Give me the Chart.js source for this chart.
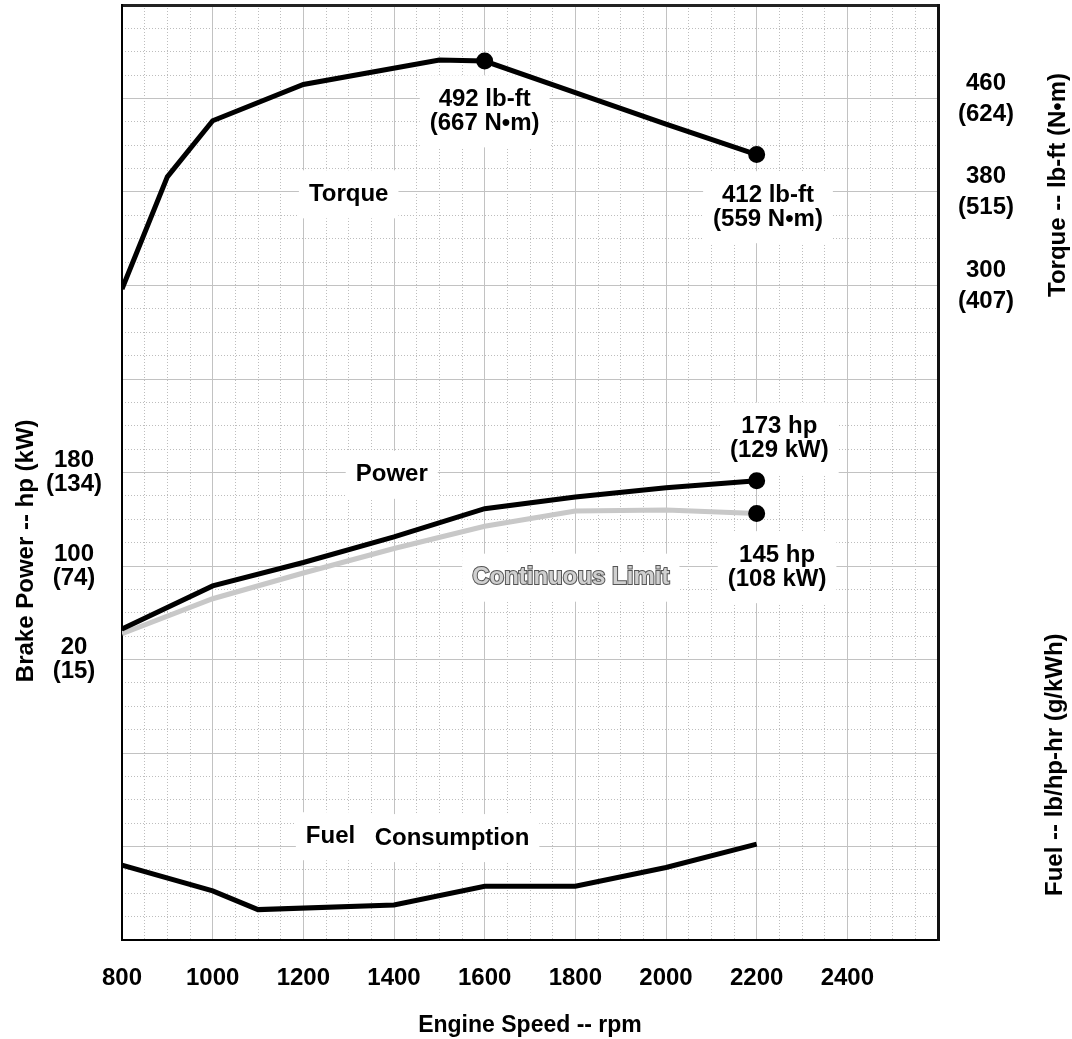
<!DOCTYPE html>
<html>
<head>
<meta charset="utf-8">
<script src="https://cdn.jsdelivr.net/npm/chart.js@4.4.1/dist/chart.umd.min.js"></script>
<style>
  html, body { margin: 0; padding: 0; background: #fff; }
  #wrap { width: 1072px; height: 1039px; }
</style>
</head>
<body>
<div id="wrap"><canvas id="chartPerf"></canvas></div>
<script>
// Torque (lb-ft)
const torqueRpm = [800, 900, 1000, 1200, 1500, 1600, 1800, 2000, 2200];
const torqueLbft = [297, 393, 441, 472, 493, 492, 465, 438, 412];
const torqueMarks = [1600, 2200];

// Brake power (hp)
const powerRpm = [800, 1000, 1200, 1400, 1600, 1800, 2000, 2200];
const powerHp = [46, 83, 103, 125, 149, 159, 167, 173];
const continuousHp = [42, 72, 94, 115, 134, 147, 148, 145];
const powerMarks = [2200];

// Fuel consumption (lb/hp-hr)
const fuelRpm = [800, 1000, 1100, 1400, 1600, 1800, 2000, 2200];
const fuelLb = [0.352, 0.341, 0.333, 0.335, 0.343, 0.343, 0.351, 0.361];

// tick labels
const speedTicks = [800, 1000, 1200, 1400, 1600, 1800, 2000, 2200, 2400];
const powerTicks = [20, 100, 180];
const powerTicksKw = ["(15)", "(74)", "(134)"];
const torqueTicks = [300, 380, 460];
const torqueTicksNm = ["(407)", "(515)", "(624)"];
const fuelTicks = [0.36, 0.40];
const fuelTicksG = ["(219)", "(242)"];

// in-chart labels (data units)
const notes = [
    { text: ["Torque"], x: 1300, y: 378, axis: "yT" },
    { text: ["492 lb-ft", "(667 N\u2022m)"], x: 1600, y: 449, axis: "yT" },
    { text: ["412 lb-ft", "(559 N\u2022m)"], x: 2225, y: 367, axis: "yT" },
    { text: ["Power"], x: 1395, y: 178, axis: "yP" },
    { text: ["173 hp", "(129 kW)"], x: 2250, y: 209, axis: "yP" },
    { text: ["145 hp", "(108 kW)"], x: 2245, y: 99, axis: "yP" },
    { text: ["Continuous Limit"], x: 1790, y: 90, axis: "yP", outline: true },
    { text: ["Fuel"], x: 1260, y: 0.3644, axis: "yF" },
    { text: ["Consumption"], x: 1528, y: 0.3636, axis: "yF" }
];

const fontFamily = "'Liberation Sans', Arial, Helvetica, sans-serif";
const majorGrid = "#c2c2c2";
const minorGrid = "#bdbdbd";

Chart.defaults.font.family = fontFamily;
Chart.defaults.color = "#000";

const toPoints = (xs, ys) => xs.map((x, i) => ({ x: x, y: ys[i] }));
const near = (a, b) => Math.abs(a - b) < 1e-6;

function pickLabel(list, extra, v, digits) {
    const i = list.findIndex(t => near(t, v));
    if (i < 0) return "";
    return [digits ? v.toFixed(digits) : String(v), extra[i]];
}

// fixed axis sizes, no label overhang padding
function fixSize(w, h) {
    return s => {
        if (w !== null) s.width = w;
        if (h !== null) s.height = h;
        s.paddingTop = 0;
        s.paddingBottom = 0;
        s.paddingLeft = 0;
        s.paddingRight = 0;
    };
}

const notesPlugin = {
    id: "notes",
    beforeDatasetsDraw(chart) {
        const ctx = chart.ctx;
        const xs = chart.scales.x;
        ctx.save();
        ctx.font = "bold 24px " + fontFamily;
        ctx.textAlign = "center";
        ctx.textBaseline = "middle";
        notes.forEach(n => {
            const px = xs.getPixelForValue(n.x);
            const py = chart.scales[n.axis].getPixelForValue(n.y);
            const lh = 24;
            const w = Math.max(...n.text.map(t => ctx.measureText(t).width));
            const h = n.text.length * lh;
            ctx.fillStyle = "#fff";
            ctx.fillRect(px - w / 2 - 10, py - h / 2 - 12, w + 20, h + 24);
            n.text.forEach((t, i) => {
                const ty = py - h / 2 + lh / 2 + i * lh;
                if (n.outline) {
                    ctx.lineWidth = 2;
                    ctx.strokeStyle = "#555";
                    ctx.strokeText(t, px, ty);
                    ctx.fillStyle = "#d0d0d0";
                    ctx.fillText(t, px, ty);
                } else {
                    ctx.fillStyle = "#000";
                    ctx.fillText(t, px, ty);
                }
            });
        });
        ctx.restore();
    },
    afterDraw(chart) {
        // rotated axis titles, reading bottom to top
        const ctx = chart.ctx;
        const titles = [
            { text: "Brake Power -- hp (kW)", x: 26, y: chart.scales.yP.getPixelForValue(113) },
            { text: "Torque -- lb-ft (N\u2022m)", x: chart.width - 14, y: chart.scales.yT.getPixelForValue(386) },
            { text: "Fuel -- lb/hp-hr (g/kWh)", x: chart.width - 17, y: chart.scales.yF.getPixelForValue(0.395) }
        ];
        ctx.save();
        ctx.font = "bold 24px " + fontFamily;
        ctx.fillStyle = "#000";
        ctx.textAlign = "center";
        ctx.textBaseline = "middle";
        titles.forEach(t => {
            ctx.save();
            ctx.translate(t.x, t.y);
            ctx.rotate(-Math.PI / 2);
            ctx.fillText(t.text, 0, 0);
            ctx.restore();
        });
        ctx.restore();
    }
};

const tickFont = { size: 24, weight: "bold", family: fontFamily };

new Chart(document.getElementById("chartPerf"), {
    type: "line",
    data: {
        datasets: [
            {
                data: toPoints(torqueRpm, torqueLbft),
                yAxisID: "yT",
                borderColor: "#000",
                borderWidth: 5,
                pointRadius: c => torqueMarks.includes(c.raw.x) ? 6 : 0,
                pointBackgroundColor: "#000",
                pointBorderColor: "#000"
            },
            {
                data: toPoints(powerRpm, powerHp),
                yAxisID: "yP",
                borderColor: "#000",
                borderWidth: 5,
                pointRadius: c => powerMarks.includes(c.raw.x) ? 6 : 0,
                pointBackgroundColor: "#000",
                pointBorderColor: "#000"
            },
            {
                data: toPoints(powerRpm, continuousHp),
                yAxisID: "yP",
                borderColor: "#c8c8c8",
                borderWidth: 5,
                pointRadius: c => powerMarks.includes(c.raw.x) ? 6 : 0,
                pointBackgroundColor: "#000",
                pointBorderColor: "#000"
            },
            {
                data: toPoints(fuelRpm, fuelLb),
                yAxisID: "yF",
                borderColor: "#000",
                borderWidth: 5,
                pointRadius: 0
            }
        ]
    },
    options: {
        responsive: true,
        maintainAspectRatio: false,
        animation: false,
        events: [],
        layout: { autoPadding: false, padding: { top: 5, left: 0, right: 0, bottom: 0 } },
        plugins: {
            legend: { display: false },
            tooltip: { enabled: false }
        },
        scales: {
            x: {
                type: "linear",
                position: "bottom",
                min: 800,
                max: 2600,
                weight: 0,
                ticks: {
                    stepSize: 200,
                    padding: 24,
                    font: tickFont,
                    color: "#000",
                    callback: v => speedTicks.includes(v) ? String(v) : ""
                },
                grid: {
                    drawTicks: false,
                    color: c => (c.tick.value === 800 || c.tick.value === 2600) ? "transparent" : majorGrid,
                    lineWidth: 1
                },
                border: { display: true, color: "#000", width: 2 },
                title: {
                    display: true,
                    text: "Engine Speed -- rpm",
                    font: { size: 23, weight: "bold", family: fontFamily },
                    color: "#000",
                    padding: { top: 0, bottom: 0 }
                },
                afterFit: fixSize(null, 99)
            },
            xMinor: {
                type: "linear",
                position: "bottom",
                min: 800,
                max: 2600,
                weight: 1,
                ticks: { display: false, stepSize: 50 },
                grid: {
                    drawTicks: false,
                    color: c => (Math.round(c.tick.value) % 200 === 0) ? "transparent" : minorGrid,
                    lineWidth: 1
                },
                border: { display: false, dash: [1, 2] },
                afterFit: fixSize(null, 0)
            },
            yP: {
                type: "linear",
                position: "left",
                min: -220,
                max: 580,
                weight: 0,
                ticks: {
                    stepSize: 80,
                    padding: 20,
                    crossAlign: "center",
                    font: { size: 24, weight: "bold", family: fontFamily, lineHeight: 1.0 },
                    color: "#000",
                    callback: v => pickLabel(powerTicks, powerTicksKw, v, 0)
                },
                grid: {
                    drawTicks: false,
                    color: c => {
                        if (c.tick.value === 580) return "#222";
                        if (c.tick.value === -220) return "transparent";
                        return majorGrid;
                    },
                    lineWidth: c => c.tick.value === 580 ? 3 : 1
                },
                border: { display: true, color: "#000", width: 2 },
                afterFit: fixSize(122, null)
            },
            yMinor: {
                type: "linear",
                position: "left",
                min: -220,
                max: 580,
                weight: 1,
                ticks: { display: false, stepSize: 20 },
                grid: {
                    drawTicks: false,
                    color: c => (Math.round(c.tick.value + 220) % 80 === 0) ? "transparent" : minorGrid,
                    lineWidth: 1
                },
                border: { display: false, dash: [1, 2] },
                afterFit: fixSize(0, null)
            },
            yF: {
                type: "linear",
                position: "right",
                min: 0.32,
                max: 0.72,
                weight: 0,
                ticks: {
                    stepSize: 0.04,
                    padding: 27,
                    crossAlign: "center",
                    font: { size: 24, weight: "bold", family: fontFamily, lineHeight: 1.25 },
                    color: "#000",
                    callback: v => pickLabel(fuelTicks, fuelTicksG, v, 2)
                },
                grid: { drawOnChartArea: false, drawTicks: false },
                border: { display: true, color: "#111", width: 3 },
                afterFit: fixSize(0, null)
            },
            yT: {
                type: "linear",
                position: "right",
                min: -260,
                max: 540,
                weight: 1,
                ticks: {
                    stepSize: 80,
                    padding: 20,
                    crossAlign: "center",
                    font: { size: 24, weight: "bold", family: fontFamily, lineHeight: 1.3 },
                    color: "#000",
                    callback: v => pickLabel(torqueTicks, torqueTicksNm, v, 0)
                },
                grid: { drawOnChartArea: false, drawTicks: false },
                border: { display: false },
                afterFit: fixSize(134, null)
            }
        }
    },
    plugins: [notesPlugin]
});
</script>
</body>
</html>
